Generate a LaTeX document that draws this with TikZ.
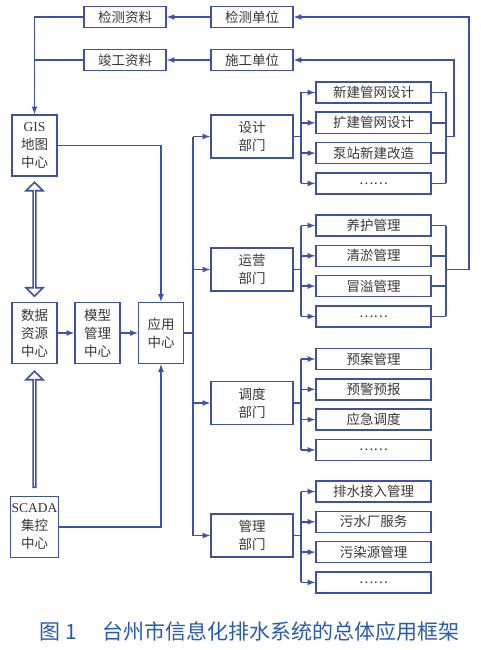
\documentclass[tikz,border=0pt]{standalone}
\usepackage{fontspec}
\setmainfont{Noto Sans CJK SC}
\newfontfamily\serifen{Liberation Serif}
\usepackage{tikz}
\usetikzlibrary{positioning, shapes.arrows}
\definecolor{lineblue}{RGB}{62,80,170}
\definecolor{textgrey}{RGB}{55,55,55}
\definecolor{capblue}{RGB}{40,90,180}

\begin{document}
\begin{tikzpicture}[x=1pt, y=-1pt, color=lineblue, line width=1.6pt, >=latex, node distance=7.7pt, box/.style={rectangle, draw=lineblue, line width=1.6pt, text=textgrey, font=\fontsize{13.5}{18}\selectfont, inner sep=1pt, align=center}, unitbox/.style={box, minimum width=82pt, minimum height=21pt}, centerbox/.style={box, minimum width=45pt, minimum height=61pt}, deptbox/.style={box, minimum width=82pt, minimum height=43pt}, itembox/.style={box, minimum width=115pt, minimum height=21pt}, bigarrow/.style={draw=lineblue, line width=1.6pt, minimum width=17pt, double arrow head extend=4pt, single arrow head extend=4pt, inner sep=0pt, rotate=90}]

    \useasboundingbox (0,0) rectangle (480,650);

    % Nodes
    \node[unitbox]   (jcdata)   at (125,17)      {检测资料};
    \node[unitbox]   (jcunit)   at (252,17)      {检测单位};
    \node[unitbox]   (jgdata)   at (125,60)      {竣工资料};
    \node[unitbox]   (sgunit)   at (252,60)      {施工单位};

    \node[centerbox] (gis)      at (34.5,145.5)  {{\serifen GIS}\\地图\\中心};
    \node[centerbox] (datasrc)  at (34.5,333)    {数据\\资源\\中心};
    \node[centerbox] (scada)    at (34.5,527)    {{\serifen SCADA}\\集控\\中心};
    \node[centerbox] (model)    at (97.5,333)    {模型\\管理\\中心};
    \node[centerbox] (app)      at (161,333)     {应用\\中心};

    \node[deptbox]   (design)   at (252,136.5)   {设计\\部门};
    \node[deptbox]   (oper)     at (252,269.5)   {运营\\部门};
    \node[deptbox]   (disp)     at (252,403)     {调度\\部门};
    \node[deptbox]   (mgmt)     at (252,535.5)   {管理\\部门};

    \node[itembox]   (design1)  at (373.5,92.5)  {新建管网设计};
    \node[itembox]   (design2)  [below=of design1] {扩建管网设计};
    \node[itembox]   (design3)  [below=of design2] {泵站新建改造};
    \node[itembox]   (design4)  [below=of design3] {……};

    \node[itembox]   (oper1)    at (373.5,225.5) {养护管理};
    \node[itembox]   (oper2)    [below=of oper1] {清淤管理};
    \node[itembox]   (oper3)    [below=of oper2] {冒溢管理};
    \node[itembox]   (oper4)    [below=of oper3] {……};

    \node[itembox]   (disp1)    at (373.5,359)   {预案管理};
    \node[itembox]   (disp2)    [below=of disp1] {预警预报};
    \node[itembox]   (disp3)    [below=of disp2] {应急调度};
    \node[itembox]   (disp4)    [below=of disp3] {……};

    \node[itembox]   (mgmt1)    at (373.5,491.5) {排水接入管理};
    \node[itembox]   (mgmt2)    [below=of mgmt1] {污水厂服务};
    \node[itembox]   (mgmt3)    [below=of mgmt2] {污染源管理};
    \node[itembox]   (mgmt4)    [below=of mgmt3] {……};

    \node[font=\fontsize{21}{21}\selectfont, text=capblue] (caption) at (249.5,631) {图 1\hspace{1.2em}台州市信息化排水系统的总体应用框架};

    % Bus positions
    \coordinate (trunk) at (193,0);
    \coordinate (lbus)  at (301,0);
    \coordinate (rbus)  at (446,0);
    \coordinate (fbsg)  at (454,0);
    \coordinate (fbjc)  at (469,0);

    % Lines ---------------
    \path (gis.south) -- node[bigarrow, double arrow, minimum height=114pt] (gislink) {} (datasrc.north);
    \path (scada.north) -- node[bigarrow, single arrow, minimum height=116pt] (scadalink) {} (datasrc.south);

    \draw[->] (jcunit.west) -- (jcdata.east);
    \draw[->] (sgunit.west) -- (jgdata.east);
    \draw[->] (jcdata.west) -| (gis.north);
    \draw (jgdata.west) -- (jgdata.west -| gis.north);

    \draw[->] (gis.east) -| (app.north);
    \draw[->] (scada.east) -| (app.south);
    \draw[->] (datasrc.east) -- (model.west);
    \draw[->] (model.east) -- (app.west);

    \draw (app.east) -- (app.east -| trunk);
    \draw (design.west -| trunk) -- (mgmt.west -| trunk);
    \foreach \d in {design, oper, disp, mgmt} {
        \draw[->] (\d.west -| trunk) -- (\d.west);
        \draw (\d.east) -- (\d.east -| lbus);
        \draw (\d1.west -| lbus) -- (\d4.west -| lbus);
        \foreach \i in {1,...,4}
            \draw[->] (\d\i.west -| lbus) -- (\d\i.west);
    }

    \foreach \d in {design, oper} {
        \draw (\d1.east -| rbus) -- (\d4.east -| rbus);
        \foreach \i in {1,...,4}
            \draw (\d\i.east) -- (\d\i.east -| rbus);
    }
    \draw[->] (design.east -| rbus) -- (design.east -| fbsg) -- (sgunit.east -| fbsg) -- (sgunit.east);
    \draw[->] (oper.east -| rbus) -- (oper.east -| fbjc) -- (jcunit.east -| fbjc) -- (jcunit.east);

\end{tikzpicture}
\end{document}
